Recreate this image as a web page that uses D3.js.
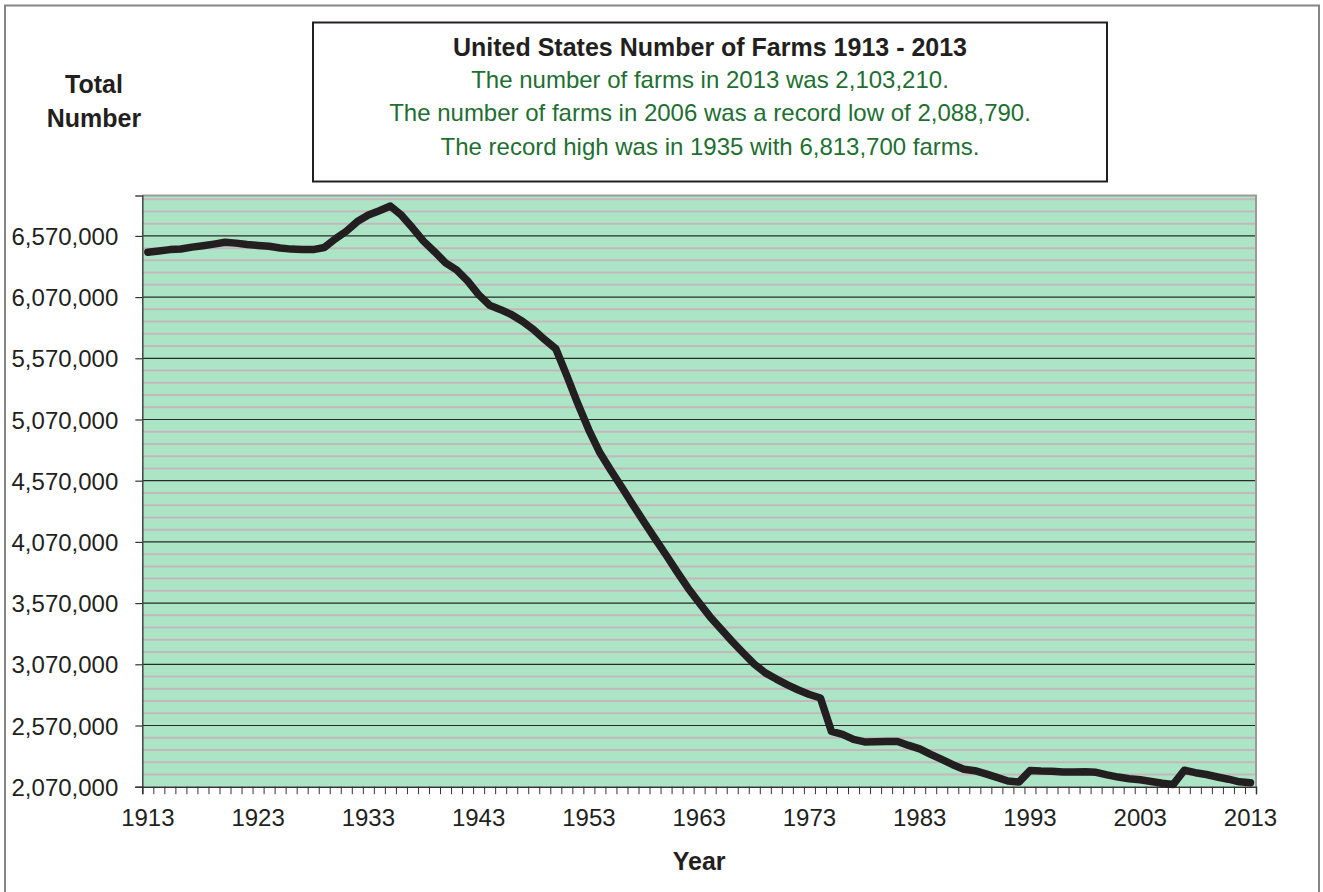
<!DOCTYPE html>
<html>
<head>
<meta charset="utf-8">
<script src="https://cdn.jsdelivr.net/npm/d3@7"></script>
<style>
  html, body { margin: 0; padding: 0; background: #ffffff; }
  svg { display: block; font-family: "Liberation Sans", Arial, sans-serif; }
</style>
</head>
<body>
<svg id="chart" width="1323" height="892"></svg>
<script>
// ---------- DATA ----------
const years = d3.range(1913, 2014);
const farms = [
  6437000, 6447000, 6458000, 6463000, 6478000, 6490000, 6503000, 6518000, 6511000, 6500000, // 1913-1922
  6492000, 6485000, 6471000, 6462000, 6458000, 6458000, 6475000, 6546000, 6608000, 6687000, // 1923-1932
  6741000, 6776000, 6813700, 6739000, 6636000, 6527000, 6441000, 6350000, 6293000, 6202000, // 1933-1942
  6090000, 6003000, 5967000, 5926000, 5871000, 5803000, 5722000, 5648000, 5428000, 5198000, // 1943-1952
  4984000, 4798000, 4654000, 4514000, 4372000, 4233000, 4097000, 3963000, 3825000, 3692000, // 1953-1962
  3572000, 3457000, 3356000, 3257000, 3162000, 3071000, 3000000, 2949000, 2902000, 2860000, // 1963-1972
  2823000, 2795000, 2521000, 2497000, 2456000, 2436000, 2437000, 2439510, 2439920, 2407180, // 1973-1982
  2378620, 2333810, 2292530, 2249820, 2212960, 2200940, 2174520, 2145820, 2116760, 2107840, // 1983-1992
  2201590, 2197690, 2196400, 2190500, 2190510, 2191360, 2187280, 2166780, 2148630, 2135360, // 1993-2002
  2126860, 2112970, 2098690, 2088790, 2204600, 2184500, 2169660, 2149520, 2131240, 2109810, // 2003-2012
  2103210                                                                                   // 2013
];
const xTickLabels = ["1913", "1923", "1933", "1943", "1953", "1963", "1973", "1983", "1993", "2003", "2013"];
const yMajorTicks = [2070000, 2570000, 3070000, 3570000, 4070000, 4570000, 5070000, 5570000, 6070000, 6570000];
const yDomain = [2070000, 6900000];
const titleLine = "United States Number of Farms 1913 - 2013";
const subtitleLines = [
  "The number of farms in 2013 was 2,103,210.",
  "The number of farms in 2006 was a record low of 2,088,790.",
  "The record high was in 1935 with 6,813,700 farms."
];
const yAxisTitle = ["Total", "Number"];
const xAxisTitle = "Year";

// ---------- LAYOUT ----------
const svg = d3.select("#chart");
const plot = { left: 142.3, right: 1256, top: 195.5, bottom: 786.7 };

// outer frame
svg.append("rect")
  .attr("x", 5).attr("y", 5.5).attr("width", 1314).attr("height", 900)
  .attr("fill", "#ffffff").attr("stroke", "#858585").attr("stroke-width", 2);

// scales
const x = d3.scaleBand().domain(years).range([plot.left, plot.right]).paddingInner(0).paddingOuter(0);
const xEdges = d3.scaleLinear().domain([1912.5, 2013.5]).range([plot.left, plot.right]);
const y = d3.scaleLinear().domain(yDomain).range([plot.bottom, plot.top]);

// plot background
svg.append("rect")
  .attr("x", plot.left).attr("y", plot.top)
  .attr("width", plot.right - plot.left).attr("height", plot.bottom - plot.top)
  .attr("fill", "#abe5c6");

// minor gridlines
const minor = d3.range(yDomain[0] + 100000, yDomain[1], 100000)
  .filter(v => !yMajorTicks.includes(v));
svg.append("g").selectAll("line").data(minor).join("line")
  .attr("x1", plot.left).attr("x2", plot.right)
  .attr("y1", d => y(d)).attr("y2", d => y(d))
  .attr("stroke", "#c3b7bc").attr("stroke-width", 2);

// major gridlines
svg.append("g").selectAll("line").data(yMajorTicks.slice(1)).join("line")
  .attr("x1", plot.left).attr("x2", plot.right)
  .attr("y1", d => y(d)).attr("y2", d => y(d))
  .attr("stroke", "#2a2a2a").attr("stroke-width", 1.2);

// plot top/right edge (gray)
svg.append("path")
  .attr("d", `M${plot.left},${plot.top}H${plot.right}V${plot.bottom}`)
  .attr("fill", "none").attr("stroke", "#9a9a9a").attr("stroke-width", 2);

// y axis
const yAxis = svg.append("g")
  .attr("transform", `translate(${plot.left},0)`)
  .call(d3.axisLeft(y).tickValues(yMajorTicks).tickSize(7).tickPadding(17).tickFormat(d3.format(",")));
yAxis.select(".domain").attr("stroke", "#444").attr("stroke-width", 1.5);
yAxis.selectAll(".tick line").attr("stroke", "#333").attr("stroke-width", 1.2);
yAxis.selectAll(".tick text")
  .attr("font-size", 24).attr("fill", "#231f20")
  .attr("font-family", "Liberation Sans, Arial, sans-serif")
  .attr("dy", "0.36em");

// x axis: boundary ticks
const xTicks = svg.append("g")
  .attr("transform", `translate(0,${plot.bottom})`)
  .call(d3.axisBottom(xEdges).tickValues(d3.range(1912.5, 2014, 1)).tickSize(7.5).tickFormat(""));
xTicks.select(".domain").attr("stroke", "#333").attr("stroke-width", 1.5);
xTicks.selectAll(".tick line").attr("stroke", "#333").attr("stroke-width", 1);

// x axis: labels at category centers
const xLab = svg.append("g")
  .attr("transform", `translate(0,${plot.bottom})`)
  .call(d3.axisBottom(x).tickValues(xTickLabels.map(Number)).tickSize(0).tickPadding(22));
xLab.select(".domain").remove();
xLab.selectAll(".tick text")
  .attr("font-size", 24).attr("fill", "#231f20")
  .attr("font-family", "Liberation Sans, Arial, sans-serif")
  .attr("dy", "0.71em");

// data line
const line = d3.line()
  .x((d, i) => x(years[i]) + x.bandwidth() / 2)
  .y(d => y(d));
svg.append("path")
  .datum(farms)
  .attr("d", line)
  .attr("fill", "none")
  .attr("stroke", "#231f20")
  .attr("stroke-width", 7.5)
  .attr("stroke-linejoin", "round")
  .attr("stroke-linecap", "round");

// axis titles
svg.append("text").attr("x", 94).attr("y", 93)
  .attr("text-anchor", "middle").attr("font-size", 25).attr("font-weight", "bold").attr("fill", "#231f20")
  .text(yAxisTitle[0]);
svg.append("text").attr("x", 94).attr("y", 127)
  .attr("text-anchor", "middle").attr("font-size", 25).attr("font-weight", "bold").attr("fill", "#231f20")
  .text(yAxisTitle[1]);
svg.append("text").attr("x", (plot.left + plot.right) / 2).attr("y", 870)
  .attr("text-anchor", "middle").attr("font-size", 25).attr("font-weight", "bold").attr("fill", "#231f20")
  .text(xAxisTitle);

// title box
const box = { x: 313, y: 22.5, w: 794, h: 159 };
svg.append("rect")
  .attr("x", box.x).attr("y", box.y).attr("width", box.w).attr("height", box.h)
  .attr("fill", "#ffffff").attr("stroke", "#231f20").attr("stroke-width", 2);
const cx = box.x + box.w / 2;
svg.append("text").attr("x", cx).attr("y", 55.5)
  .attr("text-anchor", "middle").attr("font-size", 25).attr("font-weight", "bold").attr("fill", "#231f20")
  .text(titleLine);
svg.append("g").selectAll("text").data(subtitleLines).join("text")
  .attr("x", cx).attr("y", (d, i) => 87.5 + i * 33.7)
  .attr("text-anchor", "middle").attr("font-size", 24).attr("fill", "#1e6f31")
  .text(d => d);
</script>
</body>
</html>
